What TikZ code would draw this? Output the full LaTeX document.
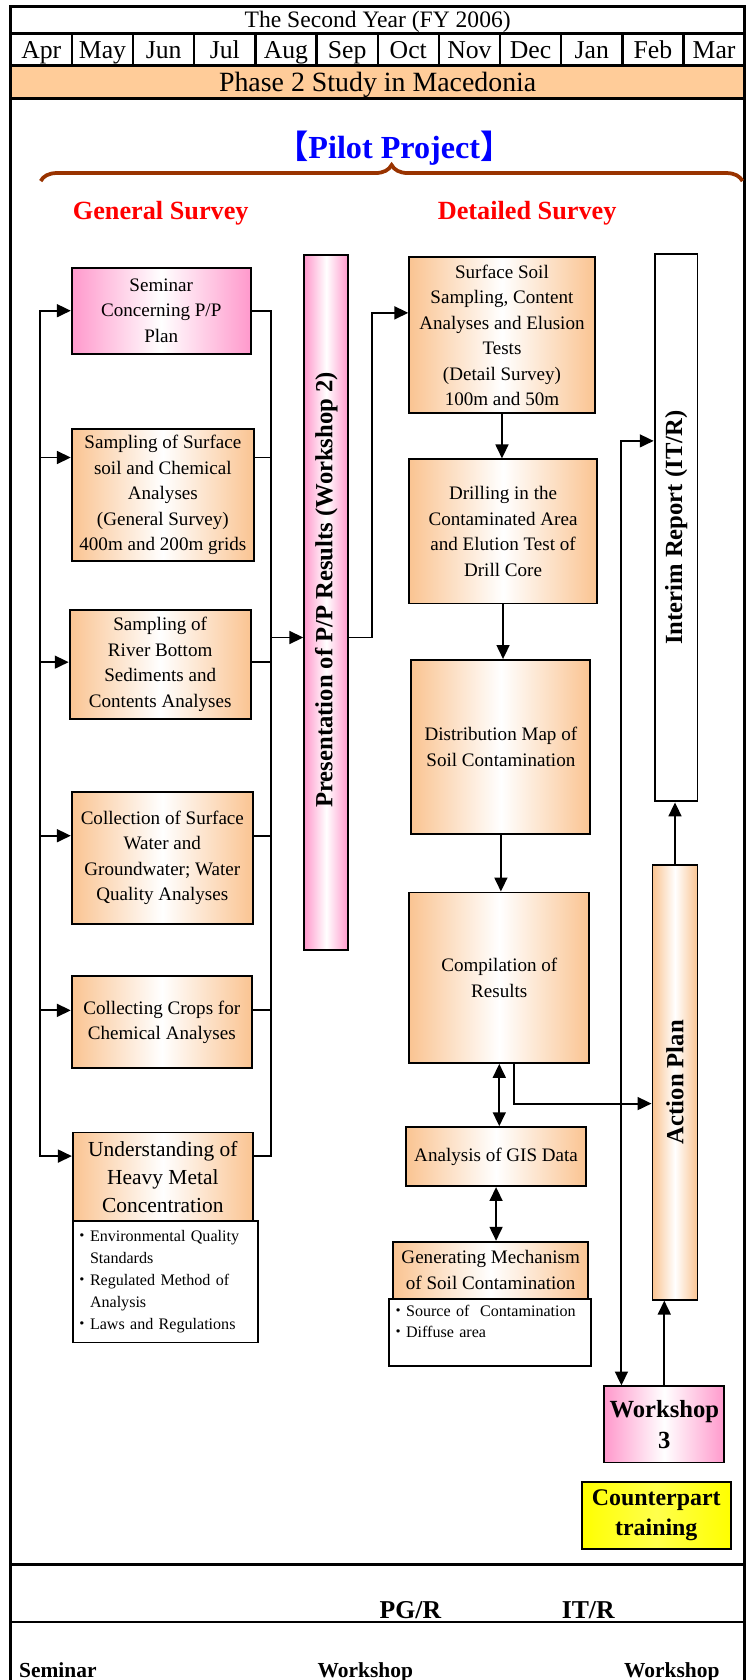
\documentclass[tikz,border=0pt]{standalone}
\usepackage{fontspec}
\setmainfont{Liberation Serif}
\newfontfamily\cjkfont{Noto Sans CJK JP}
\usepackage{graphicx}
\usepackage{tikz}
\usetikzlibrary{arrows.meta,decorations.pathreplacing}
\definecolor{boxorange}{RGB}{250,196,146}
\definecolor{phaseorange}{RGB}{255,204,153}
\definecolor{boxpink}{RGB}{255,153,204}
\definecolor{bracebrown}{RGB}{153,51,0}
\newcommand{\bulletjp}{{\cjkfont ・}}

\begin{document}
\begin{tikzpicture}[x=1pt,y=-1pt,
		box/.style={draw,line width=1.8pt,left color=boxorange,right color=boxorange,middle color=white,align=center,inner sep=1pt,font=\fontsize{17.8}{23.8}\selectfont},
		pinkbox/.style={box,left color=boxpink,right color=boxpink,middle color=white},
		notebox/.style={draw,line width=1.8pt,fill=white,align=left,inner xsep=1pt,inner ysep=0pt,font=\fontsize{15}{20.5}\selectfont},
		bar/.style={font=\fontsize{23}{23}\selectfont\bfseries,inner sep=0pt},
		line/.style={line width=1.8pt},
		arr/.style={line,-{Triangle[length=13pt,width=12pt]}},
		dbl/.style={line,{Triangle[length=13pt,width=12pt]}-{Triangle[length=13pt,width=12pt]}},
		frame/.style={line width=3pt},
		head/.style={font=\fontsize{24.5}{24.5}\selectfont\bfseries,text=red},
		lab/.style={font=\fontsize{24}{24}\selectfont\bfseries,anchor=base}]
		\useasboundingbox (0,0) rectangle (699,1568);
		\fill[phaseorange] (10,61) rectangle (695,92);
		\draw[frame] (10,1572) -- (10,6) -- (695,6) -- (695,1572);
		\foreach \y in {31,61,92,1460} \draw[frame] (10,\y) -- (695,\y);
		\draw[line width=2pt] (10,1514) -- (695,1514);
		\foreach \i in {1,...,11} \draw[line width=2.2pt] (10+57.083*\i,31) -- (10+57.083*\i,61);

		\node[font=\fontsize{22}{22}\selectfont,anchor=base] (title) at (352.5,26) {The Second Year (FY 2006)};
		\foreach \m [count=\i] in {Apr,May,Jun,Jul,Aug,Sep,Oct,Nov,Dec,Jan,Feb,Mar}
			\node[font=\fontsize{24}{24}\selectfont,anchor=base] (m\i) at (10+57.083*\i-28.54,54.5) {\m};
		\node[font=\fontsize{26}{26}\selectfont,anchor=base] (phase) at (352.5,85) {Phase 2 Study in Macedonia};

		\node[font=\fontsize{30}{30}\selectfont\bfseries,text=blue] (pilot) at (368,138) {{\cjkfont【}Pilot Project{\cjkfont】}};
		\coordinate (braceL) at (38,169);
		\coordinate (braceR) at (693,169);
		\draw[bracebrown,line width=3.5pt,decorate,decoration={brace,amplitude=15pt}] (braceL) -- (braceR);
		\node[head] (gensurv) at (150,199) {General Survey};
		\node[head] (detsurv) at (492,199) {Detailed Survey};

		\node[pinkbox,minimum width=167pt,minimum height=80pt] (sem) at (150.5,290) {Seminar\\Concerning P/P\\Plan};
		\node[box,minimum width=170pt,minimum height=124pt] (surf) at (152,462) {Sampling of Surface\\soil and Chemical\\Analyses\\(General Survey)\\400m and 200m grids};
		\node[box,minimum width=169pt,minimum height=102pt] (river) at (149.5,620) {Sampling of\\River Bottom\\Sediments and\\Contents Analyses};
		\node[box,minimum width=169pt,minimum height=123pt] (water) at (151.5,800.5) {Collection of Surface\\Water and\\Groundwater; Water\\Quality Analyses};
		\node[box,minimum width=168pt,minimum height=86pt] (crops) at (151,954) {Collecting Crops for\\Chemical Analyses};
		\node[box,minimum width=168pt,minimum height=83pt,font=\fontsize{20}{26}\selectfont] (und) at (152,1098.5) {Understanding of\\Heavy Metal\\Concentration};
		\node[notebox,text width=171pt,minimum height=113pt] (undnote) at (154.5,1196.5) {\bulletjp Environmental Quality\\\phantom{\bulletjp}Standards\\\bulletjp Regulated Method of\\\phantom{\bulletjp}Analysis\\\bulletjp Laws and Regulations};

		\node[pinkbox,bar,minimum width=41pt,minimum height=649pt] (pres) at (304.5,562.5) {\rotatebox{90}{\hspace{24pt}Presentation of P/P Results (Workshop 2)}};

		\node[box,minimum width=173pt,minimum height=145.5pt] (soil) at (468.5,313) {Surface Soil\\Sampling, Content\\Analyses and Elusion\\Tests\\(Detail Survey)\\100m and 50m};
		\node[box,minimum width=175pt,minimum height=134.5pt] (drill) at (469.5,496) {Drilling in the\\Contaminated Area\\and Elution Test of\\Drill Core};
		\node[box,minimum width=167pt,minimum height=162pt] (dist) at (467.5,697) {Distribution Map of\\Soil Contamination};
		\node[box,minimum width=168pt,minimum height=159pt] (comp) at (466,912.5) {Compilation of\\Results};
		\node[box,minimum width=168pt,minimum height=55pt] (gis) at (463,1079.5) {Analysis of GIS Data};
		\node[box,minimum width=182pt,minimum height=53pt] (gen) at (458,1185.5) {Generating Mechanism\\of Soil Contamination};
		\node[notebox,text width=187pt,minimum height=63pt] (gennote) at (457.5,1243.5) {\bulletjp Source of\ \ Contamination\\\bulletjp Diffuse area\\\mbox{}};

		\node[draw,line width=1.8pt,fill=white,bar,minimum width=40pt,minimum height=511pt] (itr) at (631,492.5) {\rotatebox{90}{Interim Report (IT/R)}};
		\node[box,bar,minimum width=42pt,minimum height=406pt] (ap) at (630,1010) {\rotatebox{90}{Action Plan}};
		\node[pinkbox,minimum width=112pt,minimum height=71pt,font=\fontsize{23}{29.6}\selectfont\bfseries] (ws3) at (620,1329.5) {Workshop\\3};
		\node[box,left color=yellow,right color=yellow,middle color=yellow!70!white,minimum width=139pt,minimum height=63pt,font=\fontsize{22.3}{28}\selectfont\bfseries] (cpt) at (612.5,1414.5) {Counterpart\\training};

		\node[lab] (pgr) at (383,1511) {PG/R};
		\node[lab] (itrlab) at (549,1511) {IT/R};
		\node[lab,font=\fontsize{20}{20}\selectfont\bfseries] (semlab) at (54,1566) {Seminar};
		\node[lab,font=\fontsize{20}{20}\selectfont\bfseries] (wslabA) at (341,1566) {Workshop};
		\node[lab,font=\fontsize{20}{20}\selectfont\bfseries] (wslabB) at (627,1566) {Workshop};

		\coordinate (busL) at (37,0);
		\coordinate (busR) at (253,0);
		\coordinate (insem) at (sem.west);
		\coordinate (insurf) at ([yshift=35pt]surf.west);
		\coordinate (inriver) at ([yshift=2pt]river.west);
		\coordinate (inwater) at ([yshift=20.5pt]water.west);
		\coordinate (incrops) at ([yshift=11pt]crops.west);
		\coordinate (inund) at ([yshift=19.5pt]und.west);
		\draw[dbl] (insem) -- (busL |- insem) -- (busL |- inund) -- (inund);
		\foreach \n in {surf,river,water,crops} \draw[arr] (busL |- in\n) -- (in\n);
		\draw[line] (insem -| sem.east) -- (busR |- insem) -- (busR |- inund) -- (inund -| und.east);
		\foreach \n in {surf,river,water,crops} \draw[line] (in\n -| \n.east) -- (busR |- in\n);
		\coordinate (inpres) at ([yshift=-32.5pt]pres.west);
		\draw[arr] (busR |- inpres) -- (inpres);
		\coordinate (insoil) at ([yshift=21pt]soil.west);
		\coordinate (presturn) at (347,0);
		\draw[arr] (inpres -| pres.east) -| (presturn |- insoil) -- (insoil);

		\draw[arr] (soil.south) -- (soil.south |- drill.north);
		\draw[arr] (drill.south) -- (drill.south |- dist.north);
		\draw[arr] (dist.south) -- (dist.south |- comp.north);
		\draw[dbl] (comp.south) -- (comp.south |- gis.north);
		\draw[dbl] (gis.south) -- (gis.south |- gen.north);
		\coordinate (inap) at ([yshift=-20pt]ap.west);
		\draw[arr] ([xshift=14pt]comp.south) |- (inap);
		\draw[arr] (ap.north) -- (ap.north |- itr.south);
		\draw[arr] (ws3.north) -- (ws3.north |- ap.south);
		\coordinate (initr) at ([yshift=81pt]itr.west);
		\coordinate (inws3) at ([xshift=-40pt]ws3.north);
		\draw[dbl] (initr) -| (inws3);
	\end{tikzpicture}
\end{document}
